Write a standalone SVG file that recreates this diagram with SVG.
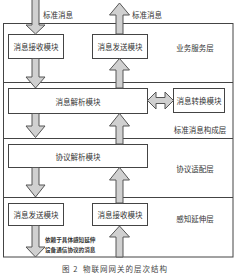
<svg xmlns="http://www.w3.org/2000/svg" width="238" height="275" viewBox="0 0 238 275">
<style>
text{font-family:"Noto Sans CJK SC","Noto Sans CJK TC",sans-serif;fill:#333;}
.box{fill:#fff;stroke:#444;stroke-width:1;}
.frame{fill:none;stroke:#444;stroke-width:1;}
.arr{fill:#d0d0d0;stroke:#555;stroke-width:1;stroke-linejoin:miter;}
.t{font-size:7.5px;text-anchor:middle;dominant-baseline:central;}
.lbl{font-size:7.5px;dominant-baseline:central;}
.small{font-size:5.6px;font-weight:bold;dominant-baseline:central;}
.cap{font-size:7.5px;dominant-baseline:central;letter-spacing:1px;fill:#444;}
</style>
<rect width="238" height="275" fill="#fff"/>
<g id="frame">
<rect class="frame" x="3.5" y="23.5" width="229.5" height="233.5"/>
<line class="frame" x1="3.5" y1="82.5" x2="233" y2="82.5"/>
<line class="frame" x1="3.5" y1="138.5" x2="233" y2="138.5"/>
<line class="frame" x1="3.5" y1="197.5" x2="233" y2="197.5"/>
</g>
<g id="layer-labels">
<text class="t" x="195" y="47">业务服务层</text>
<text class="t" x="200" y="129">标准消息构成层</text>
<text class="t" x="195" y="168">协议适配层</text>
<text class="t" x="195" y="218">感知延伸层</text>
</g>
<g id="recv-top"><rect class="box" x="8.5" y="34.5" width="55" height="24"/><text class="t" x="36" y="46.5">消息接收模块</text></g>
<g id="send-top"><rect class="box" x="92.5" y="34.5" width="55" height="24"/><text class="t" x="120" y="46.5">消息发送模块</text></g>
<g id="parse-msg"><rect class="box" x="8.5" y="88.5" width="139" height="25"/><text class="t" x="78" y="101">消息解析模块</text></g>
<g id="convert-msg"><rect class="box" x="173.5" y="88.5" width="51" height="24"/><text class="t" x="199" y="100.5">消息转换模块</text></g>
<g id="parse-proto"><rect class="box" x="8.5" y="144.5" width="139" height="23"/><text class="t" x="78" y="156">协议解析模块</text></g>
<g id="send-bottom"><rect class="box" x="8.5" y="203.5" width="55" height="22"/><text class="t" x="36" y="214.5">消息发送模块</text></g>
<g id="recv-bottom"><rect class="box" x="92.5" y="203.5" width="55" height="22"/><text class="t" x="120" y="214.5">消息接收模块</text></g>
<g id="connectors">
<path class="arr" d="M32,-1 L39,-1 L39,25 L45,25 L35.5,34 L26,25 L32,25 Z"/>
<path class="arr" d="M32,58.5 L39,58.5 L39,77 L45,77 L35.5,88 L26,77 L32,77 Z"/>
<path class="arr" d="M32,113.5 L39,113.5 L39,126 L45,126 L35.5,137.5 L26,126 L32,126 Z"/>
<path class="arr" d="M32,167.5 L39,167.5 L39,185 L45,185 L35.5,197 L26,185 L32,185 Z"/>
<path class="arr" d="M32,225.5 L39,225.5 L39,247 L45,247 L35.5,257 L26,247 L32,247 Z"/>
<path class="arr" d="M116,34 L123,34 L123,15 L129.5,15 L119.5,3 L109.5,15 L116,15 Z"/>
<path class="arr" d="M116,88 L123,88 L123,70 L129.5,70 L119.5,58.5 L109.5,70 L116,70 Z"/>
<path class="arr" d="M116,144 L123,144 L123,126 L129.5,126 L119.5,113.5 L109.5,126 L116,126 Z"/>
<path class="arr" d="M116,203 L123,203 L123,180 L129.5,180 L119.5,167.5 L109.5,180 L116,180 Z"/>
<path class="arr" d="M116,257 L123,257 L123,237 L129.5,237 L119.5,226 L109.5,237 L116,237 Z"/>
<path class="arr" d="M147.5,100.5 L156,92 L156,97.5 L165,97.5 L165,92 L173.5,100.5 L165,109 L165,103.5 L156,103.5 L156,109 Z"/>
</g>
<g id="connector-labels">
<text class="lbl" x="43" y="14.5">标准消息</text>
<text class="lbl" x="132" y="14.5">标准消息</text>
<text class="small" x="45" y="240">依赖于具体感知延伸</text>
<text class="small" x="45" y="250">设备通信协议的消息</text>
</g>
<g id="caption">
<text class="cap" x="62" y="268.5">图 2</text>
<text class="cap" x="83" y="268.5">物联网网关的层次结构</text>
</g>
</svg>
